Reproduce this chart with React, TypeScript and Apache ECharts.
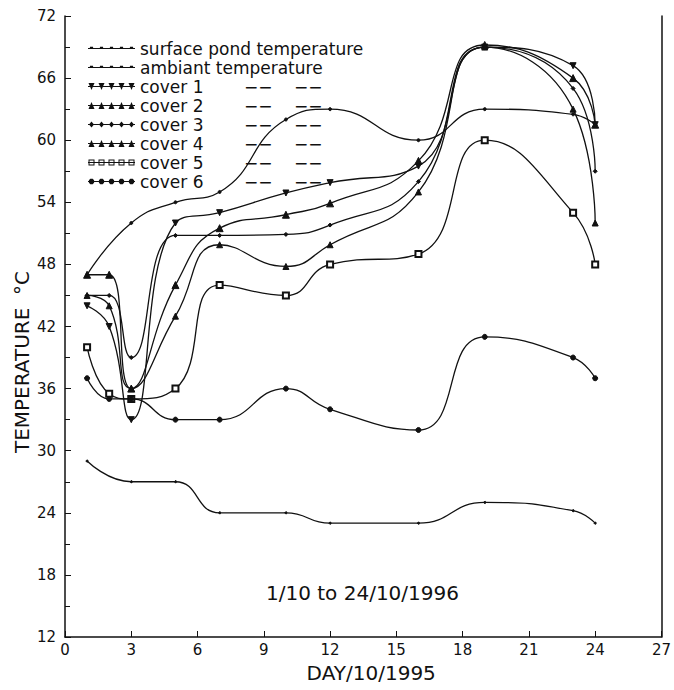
import React, { useEffect, useRef } from "react";
import * as echarts from "echarts";

// ---- data ----
const coverDays = [1, 2, 3, 5, 7, 10, 12, 16, 19, 23, 24];
const pondDays = [1, 3, 5, 7, 10, 12, 16, 19, 23, 24];
const ambientDays = [1, 3, 5, 7, 10, 12, 16, 19, 23, 24];

const pond = [47, 52, 54, 55, 62, 63, 60, 63, 62.5, 61.5];
const ambient = [29, 27, 27, 24, 24, 23, 23, 25, 24.2, 23];
const cover1 = [44, 42, 33, 52, 53, 54.9, 55.9, 57.5, 69, 67.2, 61.5];
const cover2 = [47, 47, 36, 46, 51.5, 52.8, 53.9, 58, 69.2, 66, 61.5];
const cover3 = [45, 45, 39, 50.8, 50.8, 50.9, 51.8, 56, 69, 65, 57];
const cover4 = [45, 44, 36, 43, 49.9, 47.8, 49.9, 55, 69, 63, 52];
const cover5 = [40, 35.5, 35, 36, 46, 45, 48, 49, 60, 53, 48];
const cover6 = [37, 35, 35, 33, 33, 36, 34, 32, 41, 39, 37];

const seriesNames = [
  "surface pond temperature",
  "ambiant temperature",
  "cover 1",
  "cover 2",
  "cover 3",
  "cover 4",
  "cover 5",
  "cover 6",
];

const xTicks = { min: 0, max: 27, interval: 3 };
const yTicks = { min: 12, max: 72, interval: 6 };
const periodNote = "1/10 to 24/10/1996";
const xName = "DAY/10/1995";
const yName = "TEMPERATURE  \u00B0C";

const FONT = "DejaVu Sans";

function pairs(xs: number[], ys: number[]) {
  return xs.map((x, i) => [x, ys[i]]);
}

// legend sample: a line with five markers (47 x 8 box)
function iconPath(kind: string) {
  const xs = [3.5, 13.5, 23.5, 33.5, 43.5];
  let d = "M0 3.6 H47 V4.4 H0 Z ";
  xs.forEach((x) => {
    if (kind === "up") d += `M${x - 3} 7.5 L${x} 0.5 L${x + 3} 7.5 Z `;
    else if (kind === "down") d += `M${x - 3} 0.5 L${x + 3} 0.5 L${x} 7.5 Z `;
    else if (kind === "dot") d += `M${x - 1.6} 2.2 H${x + 1.6} V4.4 H${x - 1.6} Z `;
    else if (kind === "diamond") d += `M${x} 1 L${x + 2.5} 4 L${x} 7 L${x - 2.5} 4 Z `;
    else if (kind === "square")
      d += `M${x - 3} 1 H${x + 3} V7 H${x - 3} Z M${x - 2} 2 V6 H${x + 2} V2 Z `;
    else if (kind === "circle")
      d += `M${x - 1.2} 1.2 L${x + 1.2} 1.2 L${x + 2.6} 2.8 L${x + 2.6} 5.2 L${x + 1.2} 6.8 L${x - 1.2} 6.8 L${x - 2.6} 5.2 L${x - 2.6} 2.8 Z `;
  });
  // frame points so the box is always 0..47 x 0..8
  d += "M0 0 H0.01 V0.01 H0 Z M46.99 7.99 H47 V8 H46.99 Z";
  return "path://" + d;
}

const legendIcons = ["dot", "dot", "down", "up", "diamond", "up", "square", "circle"];

export default function App() {
  const ref = useRef<HTMLDivElement>(null);
  useEffect(() => {
    if (!ref.current) return;
    const chart = echarts.init(ref.current, null, { renderer: "svg" });
    const line = (
      name: string,
      data: number[][],
      symbol: string,
      symbolSize: number,
      extra: any = {}
    ) => ({
      name,
      type: "line",
      data,
      smooth: 0.5,
      symbol,
      symbolSize,
      showSymbol: true,
      lineStyle: { color: "#111", width: 1.3 },
      itemStyle: { color: "#111", borderColor: "#111", borderWidth: 1 },
      emphasis: { disabled: true },
      ...extra,
    });
    chart.setOption({
      animation: false,
      backgroundColor: "#fff",
      textStyle: { fontFamily: FONT, color: "#111" },
      grid: { left: 65, right: 12, top: 16, bottom: 53, containLabel: false },
      legend: {
        orient: "vertical",
        left: 83,
        top: 35,
        itemWidth: 47,
        itemHeight: 8,
        itemGap: 2,
        selectedMode: false,
        itemStyle: { color: "#111", borderWidth: 0 },
        data: seriesNames.map((name, i) => ({ name, icon: iconPath(legendIcons[i]) })),
        textStyle: {
          fontFamily: FONT,
          fontSize: 17,
          color: "#111",
          lineHeight: 16,
          rich: {
            c: { width: 104, fontSize: 17, fontFamily: FONT, lineHeight: 16, color: "#111" },
            b: { width: 50, fontSize: 17, fontFamily: FONT, lineHeight: 16, color: "#111" },
          },
        },
        formatter: (name: string) =>
          name.startsWith("cover") ? `{c|${name}}{b|\u2212\u2212}{b|\u2212\u2212}` : name,
      },
      xAxis: [
        {
          type: "value",
          min: xTicks.min,
          max: xTicks.max,
          interval: xTicks.interval,
          name: xName,
          nameLocation: "middle",
          nameGap: 26,
          nameTextStyle: { fontFamily: FONT, fontSize: 20, color: "#111", padding: [0, 0, 0, 16] },
          axisLine: { show: true, lineStyle: { color: "#111", width: 1.5 } },
          axisTick: { show: true, inside: true, length: 6, lineStyle: { color: "#111" } },
          axisLabel: { fontFamily: FONT, fontSize: 15, color: "#111", margin: 5 },
          splitLine: { show: false },
        },
      ],
      yAxis: [
        {
          type: "value",
          min: yTicks.min,
          max: yTicks.max,
          interval: yTicks.interval,
          axisLine: { show: true, lineStyle: { color: "#111", width: 1.5 } },
          axisTick: { show: true, inside: true, length: 6, lineStyle: { color: "#111" } },
          minorTick: { show: true, splitNumber: 2, length: 5, lineStyle: { color: "#111" } },
          axisLabel: { fontFamily: FONT, fontSize: 15, color: "#111", margin: 9 },
          splitLine: { show: false },
          minorSplitLine: { show: false },
        },
        {
          type: "value",
          position: "right",
          min: yTicks.min,
          max: yTicks.max,
          interval: yTicks.interval,
          axisLine: { show: true, onZero: false, lineStyle: { color: "#111", width: 1.5 } },
          axisTick: { show: false },
          axisLabel: { show: false },
          splitLine: { show: false },
        },
      ],
      graphic: [
        {
          type: "text",
          left: 266,
          top: 583,
          style: { text: periodNote, font: `20px "${FONT}"`, fill: "#111" },
        },
        {
          type: "text",
          x: 22,
          y: 362,
          rotation: Math.PI / 2,
          style: {
            text: yName,
            font: `20px "${FONT}"`,
            fill: "#111",
            textAlign: "center",
            textVerticalAlign: "middle",
          },
        },
      ],
      series: [
        line(seriesNames[0], pairs(pondDays, pond), "circle", 3),
        line(seriesNames[1], pairs(ambientDays, ambient), "circle", 2),
        line(seriesNames[2], pairs(coverDays, cover1), "triangle", 6, { symbolRotate: 180 }),
        line(seriesNames[3], pairs(coverDays, cover2), "triangle", 7),
        line(seriesNames[4], pairs(coverDays, cover3), "diamond", 4),
        line(seriesNames[5], pairs(coverDays, cover4), "triangle", 6),
        line(seriesNames[6], pairs(coverDays, cover5), "emptyRect", 6),
        line(seriesNames[7], pairs(coverDays, cover6), "circle", 5),
      ],
    });
    return () => chart.dispose();
  }, []);
  return (
    <div
      ref={ref}
      style={{ position: "absolute", left: 0, top: 0, width: 674, height: 690 }}
    />
  );
}
